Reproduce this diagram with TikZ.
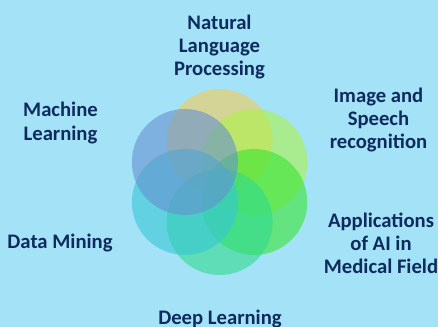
\documentclass[tikz,border=0pt]{standalone}
\usepackage{fontspec}
\setmainfont{Carlito}
\usetikzlibrary{positioning,calc}
\definecolor{bg}{RGB}{164,226,248}
\definecolor{ink}{RGB}{14,43,94}
\definecolor{cnlp}{RGB}{243,203,86}
\definecolor{cimg}{RGB}{171,243,73}
\definecolor{cmed}{RGB}{58,229,51}
\definecolor{cdl}{RGB}{48,218,141}
\definecolor{cdm}{RGB}{55,199,211}
\definecolor{cml}{RGB}{101,144,208}
\tikzset{x=0.75pt, y=-0.75pt}
\tikzstyle{petal}=[circle, inner sep=0pt, minimum size=79.5pt, fill opacity=0.6]
\tikzstyle{lbl}=[align=center, text=ink, font=\bfseries\fontsize{15.5}{17.3}\selectfont, inner sep=0pt]

\begin{document}
\begin{tikzpicture}
  \fill[bg] (0,0) rectangle (438,327);
  \useasboundingbox (0,0) rectangle (438,327);

  \coordinate (mid) at (219.6,182);
  \node[petal, fill=cnlp] (c_nlp) at ($(mid)+(0,-40)$) {};
  \node[petal, fill=cimg] (c_img) at ($(mid)+(34.7,-20)$) {};
  \node[petal, fill=cmed] (c_med) at ($(mid)+(34.7,20)$) {};
  \node[petal, fill=cdl] (c_dl) at ($(mid)+(0,40)$) {};
  \node[petal, fill=cdm] (c_dm) at ($(mid)+(-34.7,20)$) {};
  \node[petal, fill=cml] (c_ml) at ($(mid)+(-34.7,-20)$) {};

  \node[lbl] (t_nlp) at (219.5,47) {Natural\\Language\\Processing};
  \node[lbl] (t_img) at (378.5,120) {Image and\\Speech\\recognition};
  \node[lbl] (t_ml) at (60.5,123) {Machine\\Learning};
  \node[lbl] (t_med) at (381,243.5) {Applications\\of AI in\\Medical Field};
  \node[lbl] (t_dm) at (60,243) {Data Mining};
  \node[lbl] (t_dl) at (220,319) {Deep Learning};
\end{tikzpicture}
\end{document}
